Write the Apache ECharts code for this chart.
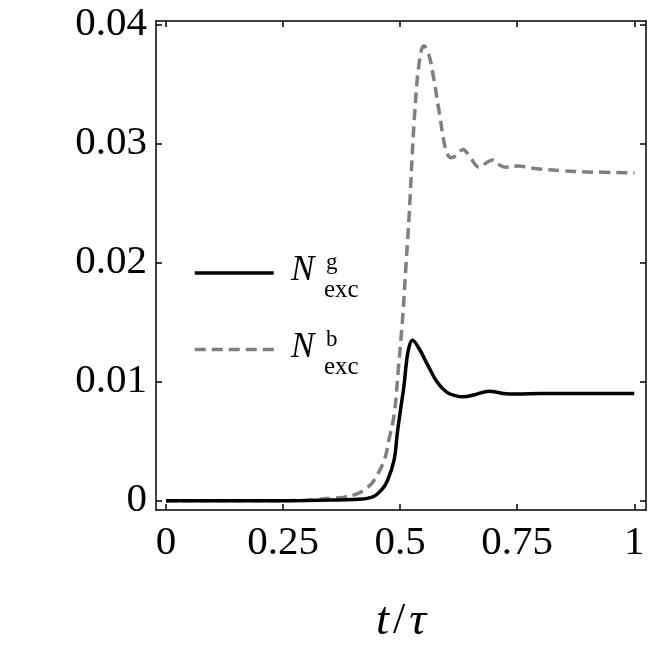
<!DOCTYPE html>
<html>
<head>
<meta charset="utf-8">
<script src="https://cdn.jsdelivr.net/npm/echarts@6/dist/echarts.min.js"></script>
<style>
  html, body { margin: 0; padding: 0; background: #fff; }
  #chart { width: 667px; height: 657px; }
</style>
</head>
<body>
<div id="chart"></div>
<script>
// time axis t/tau and excitation numbers
const tGround = [0, 0.1, 0.2, 0.3, 0.35, 0.4, 0.44, 0.46, 0.473, 0.487, 0.494, 0.501, 0.508, 0.514, 0.519, 0.526,
    0.54, 0.56, 0.58, 0.6, 0.62, 0.634, 0.66, 0.69, 0.72, 0.75, 0.8, 0.9, 1.0];
const nGround = [0, 0, 0, 0.00002, 0.00005, 0.0001, 0.0003, 0.0009, 0.0017, 0.0034, 0.0057, 0.0077, 0.0096, 0.0118, 0.0129, 0.01347,
    0.0128, 0.0113, 0.0099, 0.0091, 0.0088, 0.00872, 0.0089, 0.0092, 0.009, 0.00895, 0.009, 0.009, 0.009];

const tBath = [0, 0.2, 0.3, 0.35, 0.38, 0.409, 0.43, 0.444, 0.466, 0.476, 0.487, 0.496, 0.505, 0.512, 0.519,
    0.53, 0.541, 0.551, 0.558, 0.566, 0.584, 0.598, 0.609, 0.62, 0.634, 0.65, 0.669, 0.685, 0.698, 0.712,
    0.726, 0.751, 0.787, 0.85, 0.9, 1.0];
const nBath = [0, 0, 0.00003, 0.0002, 0.0003, 0.0006, 0.0011, 0.0017, 0.0034, 0.0051, 0.0072, 0.011, 0.0152, 0.0195, 0.0238,
    0.0319, 0.0369, 0.0382, 0.0378, 0.0367, 0.0325, 0.0294, 0.0288, 0.029, 0.0295, 0.0288, 0.028, 0.0284, 0.0286, 0.0282,
    0.028, 0.0281, 0.0279, 0.0277, 0.0276, 0.02753];

const xTicks = [0, 0.25, 0.5, 0.75, 1];
const xTickLabels = ['0', '0.25', '0.5', '0.75', '1'];
const yTicks = [0, 0.01, 0.02, 0.03, 0.04];
const yTickLabels = ['0', '0.01', '0.02', '0.03', '0.04'];

const serif = '"Liberation Serif", "DejaVu Serif", serif';

const chart = echarts.init(document.getElementById('chart'));

const tickStyle = { color: '#000', width: 1.5 };

function xAxisBase(pos, labels) {
    return {
        type: 'value',
        position: pos,
        min: -0.0214,
        max: 1.025,
        splitLine: { show: false },
        axisLine: { show: true, onZero: false, lineStyle: { color: '#000', width: 1.5 } },
        axisTick: { show: true, inside: true, length: 6, customValues: xTicks, lineStyle: tickStyle },
        axisLabel: {
            show: labels,
            customValues: xTicks,
            formatter: v => xTickLabels[xTicks.indexOf(v)] ?? '',
            fontFamily: serif,
            fontSize: 41,
            color: '#000',
            margin: 13
        }
    };
}

function yAxisBase(pos, labels) {
    return {
        type: 'value',
        position: pos,
        min: -0.00078,
        max: 0.04028,
        splitLine: { show: false },
        axisLine: { show: true, onZero: false, lineStyle: { color: '#000', width: 1.5 } },
        axisTick: { show: true, inside: true, length: 6, customValues: yTicks, lineStyle: tickStyle },
        axisLabel: {
            show: labels,
            customValues: yTicks,
            formatter: v => yTickLabels[yTicks.indexOf(v)] ?? '',
            fontFamily: serif,
            fontSize: 41,
            color: '#000',
            margin: 9
        }
    };
}

const xMain = xAxisBase('bottom', true);
xMain.name = '{i|t}{n|/}{i|τ}';
xMain.nameLocation = 'middle';
xMain.nameGap = 88;
xMain.nameTextStyle = {
    rich: {
        i: { fontFamily: serif, fontStyle: 'italic', fontSize: 47, color: '#000', padding: [0, 4, 0, 4] },
        n: { fontFamily: serif, fontSize: 44, color: '#000' }
    }
};

const legendLabel = (x, y, sup) => ({
    type: 'group',
    children: [
        { type: 'text', x: x, y: y, style: { text: 'N', font: 'italic 35px ' + serif, fill: '#000', verticalAlign: 'middle' } },
        { type: 'text', x: x + 35, y: y - 8, style: { text: sup, font: '23px ' + serif, fill: '#000', verticalAlign: 'middle' } },
        { type: 'text', x: x + 33, y: y + 19, style: { text: 'exc', font: '25px ' + serif, fill: '#000', verticalAlign: 'middle' } }
    ]
});

const option = {
    animation: false,
    backgroundColor: '#fff',
    grid: { left: 156, right: 21, top: 21, bottom: 147 },
    xAxis: [xMain, xAxisBase('top', false)],
    yAxis: [yAxisBase('left', true), yAxisBase('right', false)],
    legend: {
        orient: 'vertical',
        left: 193,
        top: 266,
        padding: 0,
        itemWidth: 79,
        itemHeight: 14,
        itemGap: 64,
        formatter: () => '',
        itemStyle: { opacity: 0 },
        lineStyle: { width: 3.5 },
        data: ['Ng', 'Nb']
    },
    graphic: [
        legendLabel(291, 271, 'g'),
        legendLabel(291, 348, 'b')
    ],
    series: [
        {
            name: 'Nb',
            type: 'line',
            data: tBath.map((t, i) => [t, nBath[i]]),
            showSymbol: false,
            symbol: 'none',
            smooth: 0.4,
            lineStyle: { color: '#808080', width: 3.5, type: [11, 6] },
            itemStyle: { color: '#808080' },
            z: 2
        },
        {
            name: 'Ng',
            type: 'line',
            data: tGround.map((t, i) => [t, nGround[i]]),
            showSymbol: false,
            symbol: 'none',
            smooth: 0.4,
            lineStyle: { color: '#000', width: 3.5 },
            itemStyle: { color: '#000' },
            z: 3
        }
    ]
};

chart.setOption(option);
</script>
</body>
</html>
